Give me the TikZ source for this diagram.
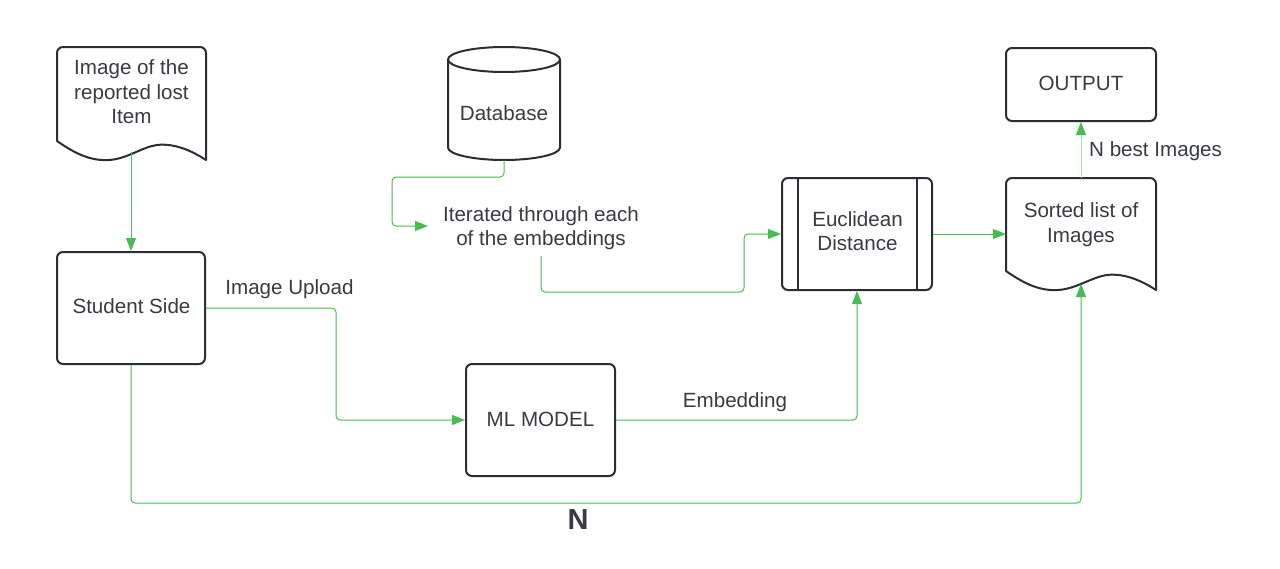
\documentclass[tikz,border=0pt]{standalone}
\usepackage{fontspec}
\setmainfont{Liberation Sans}
\usetikzlibrary{arrows.meta}
\definecolor{grn}{RGB}{72,188,82}
\definecolor{lgrn}{RGB}{170,225,175}
\definecolor{txt}{RGB}{56,60,66}
\definecolor{edge}{RGB}{42,46,53}
\begin{document}
\begin{tikzpicture}[x=1pt,y=-1pt,
  shapeline/.style={draw=edge,line width=2pt,line join=round},
  boxnode/.style={shapeline,rounded corners=6pt,inner sep=0pt,text=txt},
  lbl/.style={text=txt,font=\fontsize{20.6}{24.5}\selectfont,inner sep=0pt,align=center},
  conn/.style={draw=grn,line width=1pt,rounded corners=4pt,-{Triangle[length=13pt,width=10pt]}},
]
\fill[white] (0,0) rectangle (1280,568);
\useasboundingbox (0,0) rectangle (1280,568);

% document shape: Image of the reported lost Item
\begin{scope}[shift={(57,47)}]
\draw[shapeline] (0,94) -- (0,6) .. controls (0,2.7) and (2.7,0) .. (6,0) -- (143,0)
  .. controls (146.3,0) and (149,2.7) .. (149,6) -- (149,113)
  .. controls (135,104) and (118,96) .. (100,98)
  .. controls (85,100) and (70,112) .. (52,113)
  .. controls (35,114) and (20,108) .. (0,94) -- cycle;
\end{scope}
\node[lbl] (doc1) at (131.5,92) {Image of the\\reported lost\\Item};
\coordinate (doc1b) at (131,152);

% database cylinder
\begin{scope}[shift={(448,47)}]
\draw[shapeline] (56,12.5) ellipse [x radius=56pt, y radius=12.5pt];
\draw[shapeline] (0,12.5) -- (0,100.5) .. controls (0,107.4) and (25.1,113) .. (56,113)
  .. controls (86.9,113) and (112,107.4) .. (112,100.5) -- (112,12.5);
\end{scope}
\node[lbl,anchor=base] (db) at (504,120) {Database};
\coordinate (dbb) at (504,160);

% sorted list document shape
\begin{scope}[shift={(1006,178)}]
\draw[shapeline] (0,93) -- (0,6) .. controls (0,2.7) and (2.7,0) .. (6,0) -- (144,0)
  .. controls (147.3,0) and (150,2.7) .. (150,6) -- (150,112)
  .. controls (136,103) and (119,95) .. (101,97)
  .. controls (86,99) and (70,111) .. (52,112)
  .. controls (35,113) and (20,107) .. (0,93) -- cycle;
\end{scope}
\node[lbl] (sorted) at (1081,224.5) {Sorted list of\\Images};
\coordinate (sortt) at (1081,178);
\coordinate (sortb) at (1081,284);
\coordinate (sortl) at (1006,234);

% boxes
\node[boxnode,minimum width=148pt,minimum height=112pt] (student) at (131,308) {};
\node[lbl,anchor=base] at (131.5,313) {Student Side};
\node[boxnode,minimum width=149pt,minimum height=112pt] (ml) at (540.5,420) {};
\node[lbl,anchor=base] at (540.5,426) {ML MODEL};
\node[boxnode,minimum width=150pt,minimum height=73pt] (out) at (1081,84.5) {};
\node[lbl,anchor=base] at (1081,90) {OUTPUT};
\node[boxnode,minimum width=150pt,minimum height=112pt] (euc) at (857,234) {};
\draw[shapeline] (798,178) -- (798,290);
\draw[shapeline] (917,178) -- (917,290);
\node[lbl] at (857.5,231) {Euclidean\\Distance};

% iterated text
\node[lbl] (iter) at (541,228) {Iterated through each\\of the embeddings};
\coordinate (iterl) at (428,226);
\coordinate (iterb) at (541,256);

% connectors
\draw[conn] (doc1b) -- (student.north);
\draw[conn] (student.east) -- (336,308) -- (336,420) -- (ml.west);
\draw[conn] (student.south) -- (131,503) -- (1081,503) -- (sortb);
\draw[conn] (ml.east) -- (857,420) -- (euc.south);
\draw[conn] (dbb) -- (504,177) -- (392,177) -- (392,226) -- (iterl);
\draw[conn] (iterb) -- (541,292) -- (744,292) -- (744,234) -- (euc.west);
\draw[conn] (euc.east) -- (sortl);
\draw[conn,draw=lgrn,-{Triangle[length=13pt,width=10pt,color=grn,fill=grn]}] (sortt) -- (out.south);

% labels
\node[lbl,anchor=base] at (289.5,294) {Image Upload};
\node[lbl,anchor=base] at (735,407) {Embedding};
\node[lbl,anchor=base west] at (1089,156) {N best Images};
\node[lbl,anchor=base,font=\fontsize{29}{34}\selectfont\bfseries] at (578,529) {N};
\end{tikzpicture}
\end{document}
